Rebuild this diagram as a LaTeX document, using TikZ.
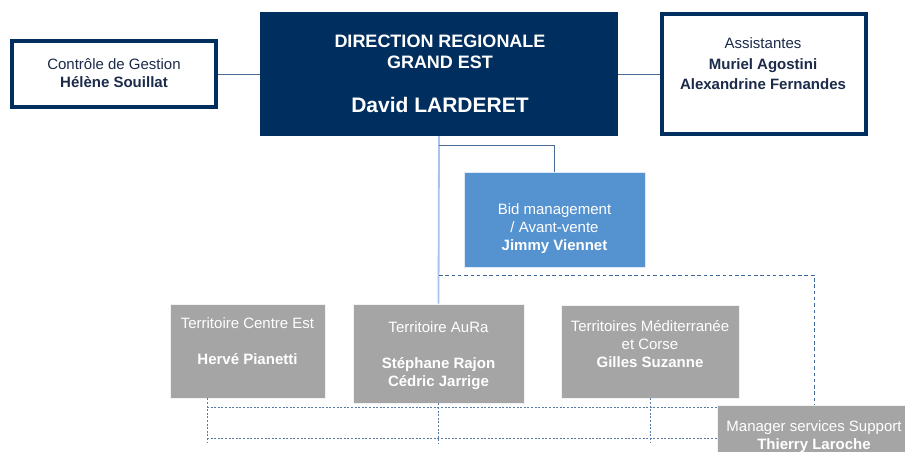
\documentclass[tikz,border=0pt]{standalone}
\usepackage{fontspec}
\setmainfont{Liberation Sans}
\definecolor{navy}{RGB}{0,47,95}
\definecolor{navytext}{RGB}{28,43,74}
\definecolor{connc}{RGB}{74,106,150}
\definecolor{lightc}{RGB}{168,196,232}
\definecolor{dashc}{RGB}{62,102,153}
\definecolor{dotc}{RGB}{90,123,166}
\definecolor{bidc}{RGB}{85,146,208}
\definecolor{greyc}{RGB}{165,165,165}
\begin{document}
\begin{tikzpicture}[x=1pt,y=-1pt,
  whitebox/.style={draw=navy,line width=4pt,fill=white,inner sep=0pt},
  navybox/.style={fill=navy,inner sep=0pt},
  bidbox/.style={fill=bidc,draw=white!80!bidc,line width=0.6pt,inner sep=0pt},
  greybox/.style={fill=greyc,draw=white!85!greyc,line width=0.6pt,inner sep=0pt},
  txt/.style={align=center,inner sep=0pt,font=\fontsize{15}{18}\selectfont},
  conn/.style={draw=connc,line width=0.9pt},
  lightconn/.style={draw=lightc,line width=1.8pt},
  dashconn/.style={draw=dashc,line width=1pt,dash pattern=on 3.5pt off 2.8pt},
  dotconn/.style={draw=dotc,line width=1pt,dash pattern=on 2pt off 1.6pt}]
\useasboundingbox (0,0) rectangle (905,452);
\clip (0,0) rectangle (905,452);
\fill[white] (0,0) rectangle (905,452);
% boxes
\node[whitebox,minimum width=204pt,minimum height=66pt] (ctrl) at (114,74) {};
\node[navybox,minimum width=358pt,minimum height=124pt] (dir) at (439,74) {};
\node[whitebox,minimum width=204pt,minimum height=120pt] (asst) at (764,74) {};
\node[bidbox,minimum width=181pt,minimum height=95pt] (bid) at (554.5,219.5) {};
\node[greybox,minimum width=155pt,minimum height=94pt] (ce) at (247.5,351) {};
\node[greybox,minimum width=171pt,minimum height=99pt] (aura) at (438.5,353.5) {};
\node[greybox,minimum width=178pt,minimum height=93pt] (med) at (650,351.5) {};
\node[greybox,minimum width=194pt,minimum height=70pt] (mgr) at (814,440) {};
% texts
\node[txt,text=navytext] (ctrlt) at (114,73) {Contrôle de Gestion\\\textbf{Hélène Souillat}};
\node[txt,text=white,font=\bfseries\fontsize{18}{21}\selectfont] (dirt1) at (440,51.5) {DIRECTION REGIONALE\\GRAND EST};
\node[txt,text=white,font=\bfseries\fontsize{21}{24}\selectfont] (dirt2) at (440,104.5) {David LARDERET};
\node[txt,text=navytext,font=\fontsize{15}{20.5}\selectfont] (asstt) at (763,64) {Assistantes\\\textbf{Muriel Agostini}\\\textbf{Alexandrine Fernandes}};
\node[txt,text=white] (bidt) at (554.5,229) {Bid management\\/ Avant-vente\\\textbf{Jimmy Viennet}};
\node[txt,text=white] (cet) at (247.5,341.5) {Territoire Centre Est\\[18pt]\textbf{Hervé Pianetti}};
\node[txt,text=white] (aurat) at (438.5,356) {Territoire AuRa\\[18pt]\textbf{Stéphane Rajon}\\\textbf{Cédric Jarrige}};
\node[txt,text=white] (medt) at (650,344) {Territoires Méditerranée\\et Corse\\\textbf{Gilles Suzanne}};
\node[txt,text=white] (mgrt) at (814,437) {Manager services Support\\\textbf{Thierry Laroche}};
% connectors
\draw[conn] (ctrl.east) -- (dir.west);
\draw[conn] (dir.east) -- (asst.west);
\draw[lightconn] (dir.south) -- (aura.north);
\coordinate (bidj) at ([yshift=-9pt]dir.south);
\draw[conn] (bidj) -| (bid.north);
\coordinate (dashj) at (dir.south |- 0,275);
\draw[dashconn] (dashj) -| (mgr.north);
% dotted support links
\coordinate (ceb) at ([xshift=-40.5pt]ce.south);
\coordinate (ceend) at ([xshift=-40.5pt,yshift=-45pt]ce.south);
\coordinate (h1) at (ceb |- 0,407);
\coordinate (h2) at (ceb |- 0,438);
\draw[dotconn] (ceb) -- (ceend);
\draw[dotconn] (aura.south) -- ++(0,40);
\draw[dotconn] (med.south) -- ++(0,45);
\draw[dotconn] (h1) -- (mgr.west |- h1);
\draw[dotconn] (h2) -- (mgr.west |- h2);
\end{tikzpicture}
\end{document}
